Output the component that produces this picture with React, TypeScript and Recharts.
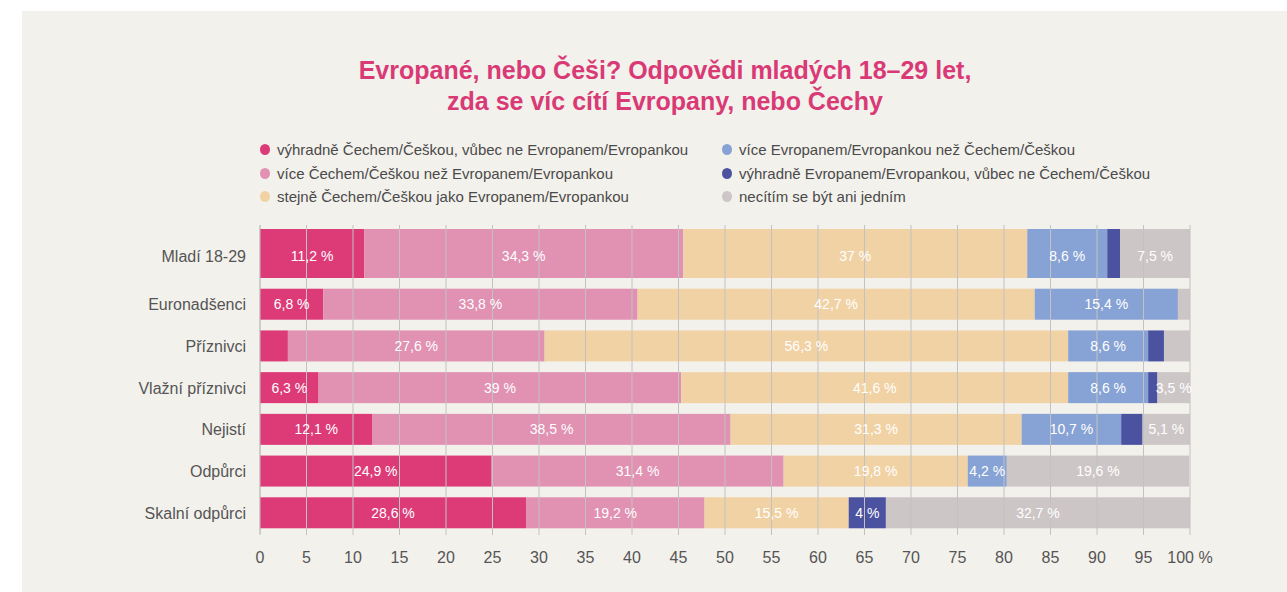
import React from 'react';
import { BarChart, Bar, XAxis, YAxis, LabelList } from 'recharts';

const categories = ['Mladí 18-29', 'Euronadšenci', 'Příznivci', 'Vlažní příznivci', 'Nejistí', 'Odpůrci', 'Skalní odpůrci'];
const onlyCzech = [11.2, 6.8, 3.0, 6.3, 12.1, 24.9, 28.6];
const moreCzech = [34.3, 33.8, 27.6, 39, 38.5, 31.4, 19.2];
const equally = [37, 42.7, 56.3, 41.6, 31.3, 19.8, 15.5];
const moreEuropean = [8.6, 15.4, 8.6, 8.6, 10.7, 4.2, 0];
const onlyEuropean = [1.4, 0, 1.7, 1.0, 2.3, 0, 4];
const neither = [7.5, 1.3, 2.8, 3.5, 5.1, 19.6, 32.7];
const xTicks = [0, 5, 10, 15, 20, 25, 30, 35, 40, 45, 50, 55, 60, 65, 70, 75, 80, 85, 90, 95, 100];

const seriesNames = [
  'výhradně Čechem/Češkou, vůbec ne Evropanem/Evropankou',
  'více Čechem/Češkou než Evropanem/Evropankou',
  'stejně Čechem/Češkou jako Evropanem/Evropankou',
  'více Evropanem/Evropankou než Čechem/Češkou',
  'výhradně Evropanem/Evropankou, vůbec ne Čechem/Češkou',
  'necítím se být ani jedním',
];
const seriesColors = ['#dc3b77', '#e191b2', '#f1d2a4', '#87a2d4', '#4b52a0', '#cdc6c7'];
const seriesKeys = ['s1', 's2', 's3', 's4', 's5', 's6'];
const seriesValues = [onlyCzech, moreCzech, equally, moreEuropean, onlyEuropean, neither];

const data = categories.map((name, i) => {
  const row: any = { name };
  seriesKeys.forEach((k, j) => {
    row[k] = seriesValues[j][i];
  });
  return row;
});

const W = 1287;
const H = 592;
const MARGIN = { top: 225, right: 97, bottom: 28, left: 60 };
const XAXIS_H = 30;
const PLOT_TOP = MARGIN.top;
const PLOT_BOTTOM = H - MARGIN.bottom - XAXIS_H;

const FIRST_EXTRA = 18;
const FONT = '"Liberation Sans", Arial, Helvetica, sans-serif';

const BarShape = (props: any) => {
  const { x, y, width, height, fill, index } = props;
  if (!width || width <= 0) return null;
  const extra = index === 0 ? FIRST_EXTRA : 0;
  return <rect x={x} y={y - extra} width={width} height={height + extra} fill={fill} />;
};

const renderLabel = (props: any) => {
  const { x, y, width, height, value, index } = props;
  if (value == null || value < 3.5) return null;
  const shift = index === 0 ? -7 : 0;
  const txt = String(value).replace('.', ',') + ' %';
  return (
    <text
      x={x + width / 2}
      y={y + height / 2 + shift}
      fill="#ffffff"
      fontSize={14}
      fontFamily={FONT}
      textAnchor="middle"
      dominantBaseline="central"
    >
      {txt}
    </text>
  );
};

const CategoryTick = (props: any) => {
  const { x, y, payload, index } = props;
  const shift = index === 0 ? -6 : 0;
  return (
    <text
      x={x}
      y={y + shift}
      fill="#555555"
      fontSize={16}
      fontFamily={FONT}
      textAnchor="end"
      dominantBaseline="central"
    >
      {payload.value}
    </text>
  );
};

const GridTick = (props: any) => {
  const { x, y, payload } = props;
  const v = payload.value;
  const label = v === 100 ? '100 %' : String(v);
  return (
    <g>
      <line x1={x} x2={x} y1={PLOT_TOP} y2={PLOT_BOTTOM + 1} stroke="#c2c2c2" strokeWidth={1} />
      <text x={x} y={y} dy="0.71em" fill="#555555" fontSize={16} fontFamily={FONT} textAnchor="middle">
        {label}
      </text>
    </g>
  );
};

const LegendBlock = () => {
  const order = [0, 3, 1, 4, 2, 5];
  return (
    <div
      style={{
        position: 'absolute',
        left: 260,
        top: 138,
        display: 'grid',
        gridTemplateColumns: '462px 460px',
        fontFamily: FONT,
        fontSize: 15,
        color: '#4a4a4a',
      }}
    >
      {order.map((i) => (
        <div key={i} style={{ display: 'flex', alignItems: 'center', height: 23.5, whiteSpace: 'nowrap' }}>
          <span
            style={{
              display: 'inline-block',
              width: 10,
              height: 11,
              borderRadius: '50%',
              background: seriesColors[i],
              marginRight: 7,
            }}
          />
          <span>{seriesNames[i]}</span>
        </div>
      ))}
    </div>
  );
};

export default function App() {
  return (
    <div style={{ position: 'absolute', left: 0, top: 0, width: W, height: H, background: '#ffffff', overflow: 'hidden' }}>
      <div style={{ position: 'absolute', left: 22, top: 11, width: 1265, height: 581, background: '#f3f1ec' }} />
      <div
        style={{
          position: 'absolute',
          left: 0,
          width: 1330,
          top: 55,
          textAlign: 'center',
          fontFamily: FONT,
          fontWeight: 'bold',
          fontSize: 25,
          lineHeight: '31px',
          color: '#d93a76',
        }}
      >
        Evropané, nebo Češi? Odpovědi mladých 18–29 let,
        <br />
        zda se víc cítí Evropany, nebo Čechy
      </div>
      <LegendBlock />
      <div style={{ position: 'absolute', left: 0, top: 0 }}>
        <BarChart width={W} height={H} data={data} layout="vertical" margin={MARGIN} barSize={31}>
          <XAxis
            type="number"
            domain={[0, 100]}
            ticks={xTicks}
            interval={0}
            axisLine={false}
            tickLine={false}
            tickSize={6}
            tickMargin={12}
            height={XAXIS_H}
            tick={<GridTick />}
            zIndex={-100}
          />
          <YAxis
            type="category"
            dataKey="name"
            width={200}
            axisLine={{ stroke: '#bdbdbd' }}
            tickLine={false}
            tickSize={6}
            tickMargin={8}
            padding={{ top: 17, bottom: 0 }}
            tick={<CategoryTick />}
            interval={0}
            zIndex={-100}
          />
          {seriesKeys.map((k, j) => (
            <Bar
              key={k}
              dataKey={k}
              name={seriesNames[j]}
              stackId="a"
              fill={seriesColors[j]}
              isAnimationActive={false}
              shape={<BarShape />}
            >
              <LabelList dataKey={k} content={renderLabel} />
            </Bar>
          ))}
        </BarChart>
      </div>
    </div>
  );
}
